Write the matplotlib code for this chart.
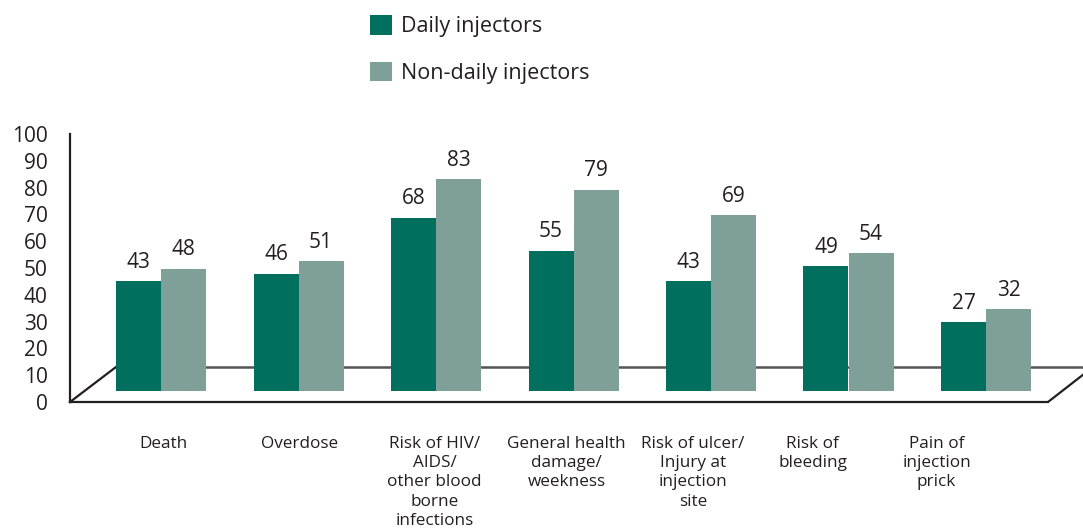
import matplotlib
matplotlib.use("Agg")
import matplotlib.pyplot as plt
from matplotlib.patches import Patch
import numpy as np

categories = ["Death", "Overdose", "Risk of HIV/\nAIDS/\nother blood\nborne\ninfections",
              "General health\ndamage/\nweekness", "Risk of ulcer/\nInjury at\ninjection\nsite",
              "Risk of\nbleeding", "Pain of\ninjection\nprick"]
daily = [43, 46, 68, 55, 43, 49, 27]
non_daily = [48, 51, 83, 79, 69, 54, 32]
series_names = ["Daily injectors", "Non-daily injectors"]
yticks = list(range(0, 101, 10))

# layout (positions for category labels, in group units)
label_pos = [0.02, 1.01, 1.99, 2.95, 3.87, 4.74, 5.64]

c_daily = "#006F5E"
c_non = "#7FA099"
txt = "#231f20"
plt.rcParams['font.family'] = ['Open Sans', 'DejaVu Sans']

W, H = 1083, 529
fig = plt.figure(figsize=(W / 100, H / 100), dpi=100)

def px_rect(x0, y_bottom, x1, y_top):
    return [x0 / W, 1 - y_bottom / H, (x1 - x0) / W, (y_bottom - y_top) / H]

# pixel mapping: groups at 161 + 137.5*i, axes from x=70 to 1083
gstep = 137.5
g0 = 161
xlim = ((70 - g0) / gstep, (1083 - g0) / gstep)

ax = fig.add_axes(px_rect(70, 402, 1083, 134))
ax.set_xlim(*xlim)
ax.set_ylim(0, 100)
for s in ["top", "right", "bottom"]:
    ax.spines[s].set_visible(False)
ax.spines["left"].set_color(txt)
ax.spines["left"].set_linewidth(1.6)
ax.set_yticks(yticks)
ax.set_yticklabels([str(t) for t in yticks], fontsize=15, color=txt)
ax.tick_params(axis="y", length=0, pad=16)
ax.set_xticks([])
ax.patch.set_visible(False)

# floor (pseudo-3D)
def px_to_data(px, py):
    return ((px - g0) / gstep, (402 - py) / 268 * 100)
fl = [px_to_data(70, 402), px_to_data(1048, 402), px_to_data(1093, 367), px_to_data(116, 367), px_to_data(70, 402)]
fx, fy = zip(*fl)
ax.plot(fx[:2], fy[:2], color=txt, lw=1.6, clip_on=False)
ax.plot(fx[1:3], fy[1:3], color=txt, lw=1.6, clip_on=True)
ax.plot(fx[3:5], fy[3:5], color=txt, lw=1.6, clip_on=False)
ax.plot([fx[3], fx[2]], [fy[3], fy[2]], color="#555555", lw=1.8, clip_on=True, zorder=1)

# bar axes: zero at y=391 px, 2.55 px per unit
scale = 2.55
bx = fig.add_axes(px_rect(70, 402, 1083, 134))
bx.set_xlim(*xlim)
bx.set_ylim((391 - 402) / scale, (391 - 134) / scale)
bx.axis("off")
x = np.arange(len(categories))
w = 45 / gstep
b1 = bx.bar(x - w / 2, daily, width=w, color=c_daily, zorder=3)
b2 = bx.bar(x + w / 2, non_daily, width=w, color=c_non, zorder=3)
for bars, vals in ((b1, daily), (b2, non_daily)):
    for r, v in zip(bars, vals):
        bx.annotate(str(v), (r.get_x() + r.get_width() / 2, v), xytext=(0, 6),
                    textcoords="offset points", ha="center", va="bottom",
                    fontsize=15, color=txt)

for p, lab in zip(label_pos, categories):
    ax.annotate(lab, (p, (402 - 436) / 268), xycoords=("data", "axes fraction"),
                ha="center", va="top", fontsize=12.3, color=txt, linespacing=1.27,
                annotation_clip=False)

handles = [Patch(facecolor=c_daily, edgecolor="none"), Patch(facecolor=c_non, edgecolor="none")]
fig.legend(handles, series_names, loc="upper left", bbox_to_anchor=(366 / W, 1 - 11 / H),
           frameon=False, fontsize=15.5, handlelength=1.0, handleheight=1.0,
           labelspacing=1.14, handletextpad=0.42, labelcolor=txt, borderaxespad=0, borderpad=0.2)

fig.savefig("out.png", dpi=100)
